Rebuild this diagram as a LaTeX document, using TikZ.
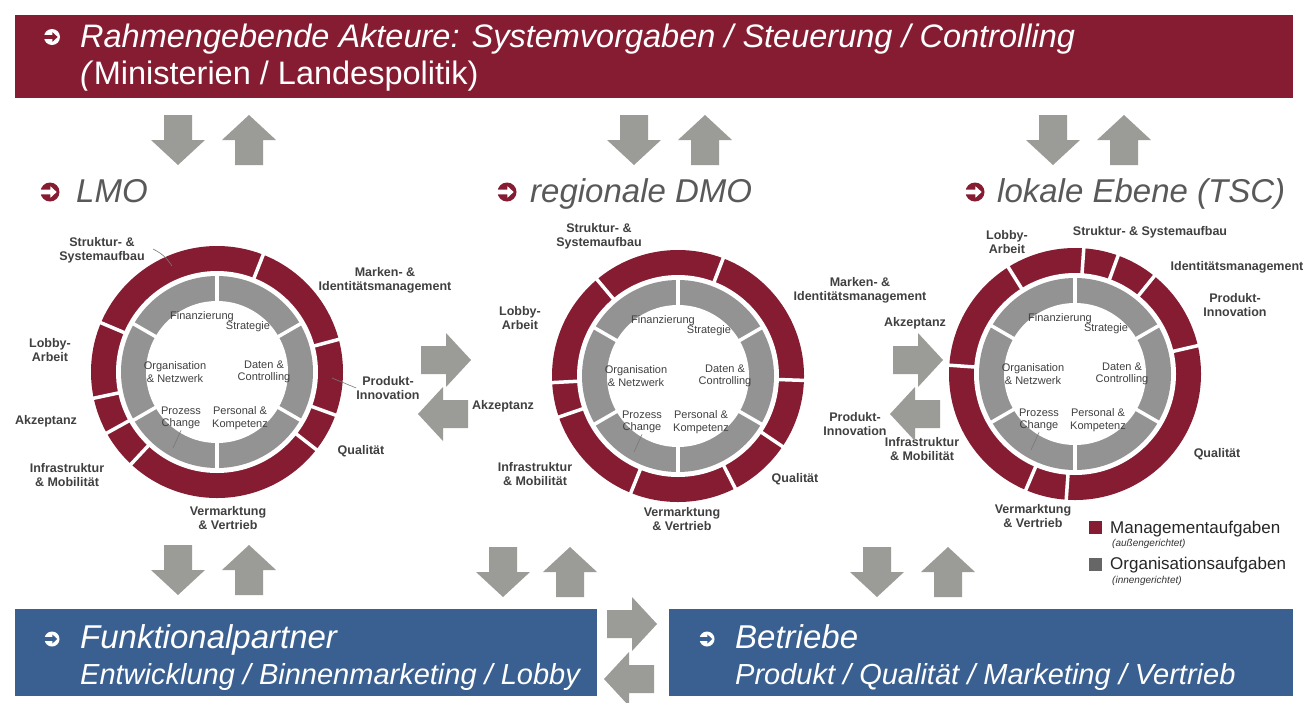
\documentclass[tikz,border=0pt]{standalone}
\usepackage{fontspec}
\setmainfont{Liberation Sans}
\definecolor{mred}{RGB}{134,28,50}
\definecolor{mblue}{RGB}{58,96,145}
\definecolor{arrowgray}{RGB}{155,156,151}
\definecolor{igray}{RGB}{147,147,147}
\definecolor{labelgray}{RGB}{64,64,64}
\definecolor{headgray}{RGB}{89,89,89}
\definecolor{legendgray}{RGB}{102,102,102}
\definecolor{leadergray}{RGB}{120,120,120}
\tikzset{
  ringlabel/.style={font=\fontsize{12.5}{14}\selectfont\bfseries, text=labelgray, align=center, inner sep=0pt},
  innerlabel/.style={font=\fontsize{11}{12.5}\selectfont, text=labelgray, align=center, inner sep=0pt},
  heading/.style={font=\fontsize{33}{38}\selectfont\itshape, text=headgray, anchor=base west, inner sep=0pt},
  bannertext/.style={font=\fontsize{32.5}{38}\selectfont, text=white, anchor=base west, inner sep=0pt},
  boxtitle/.style={font=\fontsize{33}{36}\selectfont\itshape, text=white, anchor=base west, inner sep=0pt},
  boxsub/.style={font=\fontsize{29}{34}\selectfont\itshape, text=white, anchor=base west, inner sep=0pt},
  legendtext/.style={font=\fontsize{17}{20}\selectfont, text=black!85, anchor=west, inner sep=0pt},
  legendsub/.style={font=\fontsize{10}{12}\selectfont\itshape, text=black!80, anchor=west, inner sep=0pt},
  leader/.style={draw=leadergray, line width=0.6pt},
  gapline/.style={white, line width=3.5pt},
  pics/blockarrow/.style={code={
    \fill[arrowgray] (-25,-14) -- (0,-14) -- (0,-27) -- (25,0) -- (0,27) -- (0,14) -- (-25,14) -- cycle;
  }},
  pics/circarrow/.style n args={3}{code={
    \fill[#1] (0,0) circle[radius=#3];
    \fill[#2] (-#3-0.5,-0.24*#3) -- (0.05*#3,-0.24*#3) -- (0.05*#3,-0.6*#3) -- (0.7*#3,0)
       -- (0.05*#3,0.6*#3) -- (0.05*#3,0.24*#3) -- (-#3-0.5,0.24*#3) -- cycle;
  }},
  pics/ring/.style={code={
    \fill[mred] (0,0) circle[radius=126];
    \fill[white] (0,0) circle[radius=101];
    \fill[igray] (0,0) circle[radius=96];
    \fill[white] (0,0) circle[radius=71];
    \foreach \a in {30,90,150,210,270,330} \draw[gapline] (\a:69) -- (\a:98);
    \foreach \a in {#1} \draw[gapline] (\a:99) -- (\a:128);
    \node[innerlabel] (-fin) at (-15,55) {Finanzierung};
    \node[innerlabel] (-str) at (31,45) {Strategie};
    \node[innerlabel] (-org) at (-42,0) {Organisation\\\& Netzwerk};
    \node[innerlabel] (-dat) at (47,0) {Daten \&\\Controlling};
    \node[innerlabel] (-pro) at (-36,-46) {Prozess\\Change};
    \node[innerlabel] (-per) at (23,-46) {Personal \&\\Kompetenz};
    \coordinate (-prolead) at (-44,-76);
    \draw[leader] ([yshift=-1pt]-pro.south) -- (-prolead);
  }}
}
\begin{document}
\begin{tikzpicture}[x=1pt,y=1pt]
\useasboundingbox (0,0) rectangle (1303,-702);
\fill[white] (0,0) rectangle (1303,-702);

% header banner
\node[fill=mred, anchor=north west, minimum width=1278, minimum height=83, inner sep=0pt] (hdr) at (15,-15) {};
\pic at (52,-37) {circarrow={white}{mred}{8}};
\node[bannertext] (hdr1) at (80,-47) {\itshape Rahmengebende Akteure: Systemvorgaben / Steuerung / Controlling};
\node[bannertext] (hdr2) at (80,-84) {\textit{(}Ministerien / Landespolitik)};

% top arrows
\pic[rotate=-90] at (178,-140) {blockarrow};
\pic[rotate=90] at (249,-140) {blockarrow};
\pic[rotate=-90] at (634,-140) {blockarrow};
\pic[rotate=90] at (705,-140) {blockarrow};
\pic[rotate=-90] at (1053,-140) {blockarrow};
\pic[rotate=90] at (1124,-140) {blockarrow};

% headings
\pic at (50,-192) {circarrow={mred}{white}{9.5}};
\node[heading] (h1) at (76,-202) {LMO};
\pic at (507,-192) {circarrow={mred}{white}{9.5}};
\node[heading] (h2) at (530,-202) {regionale DMO};
\pic at (975,-192) {circarrow={mred}{white}{9.5}};
\node[heading] (h3) at (997,-202) {lokale Ebene (TSC)};

% rings
\pic (r1) at (217,-372) {ring={68.5,157,192,209,227,322,340,15}};
\pic (r2) at (678,-376) {ring={130,69,-2,-34,-63,248,199,183}};
\pic (r3) at (1075,-374) {ring={122,86,70,51,13,266,247,176}};

% ring 1 labels
\node[ringlabel] (r1s) at (102,-250) {Struktur- \&\\Systemaufbau};
\node[ringlabel] (r1m) at (385,-280) {Marken- \&\\Identitätsmanagement};
\node[ringlabel] (r1l) at (50,-350) {Lobby-\\Arbeit};
\node[ringlabel] (r1a) at (46,-421) {Akzeptanz};
\node[ringlabel] (r1i) at (67,-475) {Infrastruktur\\\& Mobilität};
\node[ringlabel] (r1v) at (228,-518) {Vermarktung\\\& Vertrieb};
\node[ringlabel] (r1q) at (361,-451) {Qualität};
\node[ringlabel] (r1p) at (388,-388) {Produkt-\\Innovation};
\coordinate (r1sl) at (172,-266);
\coordinate (r1pl) at (332,-378);
\draw[leader] (153,-249) to[bend left=15] (r1sl);
\draw[leader] (r1p.west) -- (r1pl);

% ring 2 labels
\node[ringlabel] (r2s) at (599,-236) {Struktur- \&\\Systemaufbau};
\node[ringlabel] (r2m) at (860,-290) {Marken- \&\\Identitätsmanagement};
\node[ringlabel] (r2l) at (520,-318) {Lobby-\\Arbeit};
\node[ringlabel] (r2a) at (503,-406) {Akzeptanz};
\node[ringlabel] (r2i) at (535,-474) {Infrastruktur\\\& Mobilität};
\node[ringlabel] (r2v) at (682,-519) {Vermarktung\\\& Vertrieb};
\node[ringlabel] (r2q) at (795,-479) {Qualität};
\node[ringlabel] (r2p) at (855,-424) {Produkt-\\Innovation};

% ring 3 labels
\node[ringlabel] (r3l) at (1007,-242) {Lobby-\\Arbeit};
\node[ringlabel] (r3s) at (1150,-232) {Struktur- \& Systemaufbau};
\node[ringlabel] (r3m) at (1237,-267) {Identitätsmanagement};
\node[ringlabel] (r3p) at (1235,-305) {Produkt-\\Innovation};
\node[ringlabel] (r3a) at (915,-323) {Akzeptanz};
\node[ringlabel] (r3i) at (922,-449) {Infrastruktur\\\& Mobilität};
\node[ringlabel] (r3v) at (1033,-516) {Vermarktung\\\& Vertrieb};
\node[ringlabel] (r3q) at (1217,-454) {Qualität};

% middle arrows
\pic at (446,-360) {blockarrow};
\pic[rotate=180] at (443,-414) {blockarrow};
\pic at (918,-360) {blockarrow};
\pic[rotate=180] at (915,-414) {blockarrow};

% legend
\node[fill=mred, minimum size=13, inner sep=0pt] (lg1) at (1095,-527) {};
\node[legendtext] (lg1t) at (1110,-529) {Managementaufgaben};
\node[legendsub] (lg1s) at (1112,-544) {(außengerichtet)};
\node[fill=legendgray, minimum size=13, inner sep=0pt] (lg2) at (1095,-564) {};
\node[legendtext] (lg2t) at (1110,-565) {Organisationsaufgaben};
\node[legendsub] (lg2s) at (1112,-581) {(innengerichtet)};

% bottom arrows
\pic[rotate=-90] at (178,-570) {blockarrow};
\pic[rotate=90] at (249,-570) {blockarrow};
\pic[rotate=-90] at (503,-572) {blockarrow};
\pic[rotate=90] at (570,-572) {blockarrow};
\pic[rotate=-90] at (877,-572) {blockarrow};
\pic[rotate=90] at (948,-572) {blockarrow};

% bottom boxes
\node[fill=mblue, anchor=north west, minimum width=582, minimum height=87, inner sep=0pt] (fp) at (15,-609) {};
\node[fill=mblue, anchor=north west, minimum width=624, minimum height=87, inner sep=0pt] (bt) at (669,-609) {};
\pic at (632,-624) {blockarrow};
\pic[rotate=180] at (629,-679) {blockarrow};
\pic at (52,-639) {circarrow={white}{mblue}{7.5}};
\node[boxtitle] (fpt) at (80,-648) {Funktionalpartner};
\node[boxsub] (fps) at (80,-684) {Entwicklung / Binnenmarketing / Lobby};
\pic at (707,-639) {circarrow={white}{mblue}{7.5}};
\node[boxtitle] (btt) at (735,-648) {Betriebe};
\node[boxsub] (bts) at (735,-684) {Produkt / Qualität / Marketing / Vertrieb};
\end{tikzpicture}
\end{document}
